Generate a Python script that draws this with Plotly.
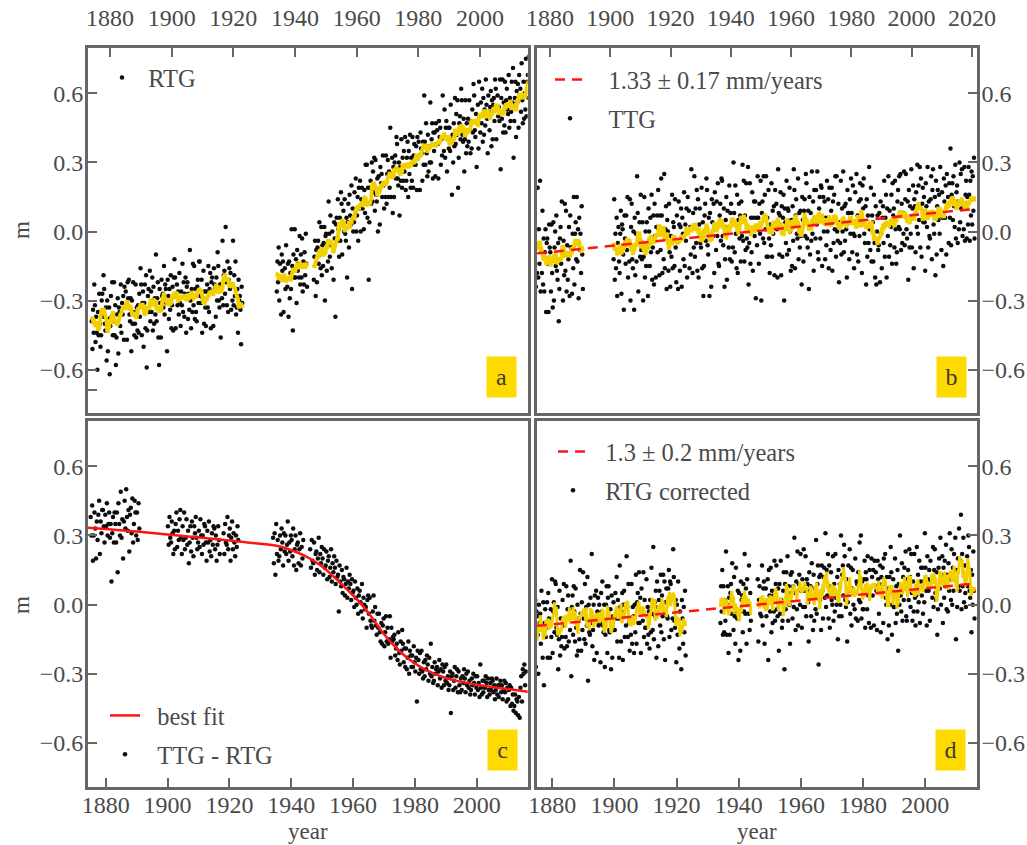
import numpy as np
import pandas as pd
import plotly.graph_objects as go

SERIF = "Liberation Serif, Times New Roman, serif"
INK = "#4a4a4a"
FRAME = "#666666"
GOLD = "#F2D000"
RED = "#FF1414"
W, H = 1027, 845

# ---------------- data (sea level, cm; five readings per year) ----------------
# RTG record
rtg_years = [*range(1874, 1923), *range(1934, 1944), *range(1946, 2016)]
rtg_cm = [
    [-39, -51, -34, -44, -23], [-32, -48, -37, -44, -60], [-35, -45, -27, -40, -50],
    [-45, -30, -27, -37, -19], [-25, -40, -43, -33, -56], [-30, -52, -38, -33, -62],
    [-41, -28, -37, -22, -45], [-39, -22, -45, -32, -58], [-46, -36, -29, -53, -33],
    [-35, -41, -23, -44, -31], [-36, -28, -47, -24, -33], [-26, -32, -47, -22, -29],
    [-21, -36, -39, -29, -52], [-30, -40, -22, -35, -45], [-40, -23, -46, -33, -43],
    [-32, -44, -27, -37, -16], [-23, -45, -31, -26, -50], [-31, -23, -42, -19, -59],
    [-43, -28, -25, -35, -17], [-39, -26, -35, -20, -43], [-24, -40, -29, -36, -10],
    [-39, -29, -22, -46, -58], [-25, -31, -46, -21, -28], [-27, -33, -15, -36, -23],
    [-25, -31, -52, -21, -28], [-38, -25, -34, -19, -42], [-32, -24, -43, -20, -12],
    [-20, -42, -28, -23, -32], [-26, -36, -18, -31, -41], [-26, -32, -14, -35, -22],
    [-37, -27, -20, -44, -24], [-22, -38, -27, -34, -8], [-30, -42, -25, -35, -14],
    [-32, -15, -38, -25, -35], [-39, -24, -21, -31, -13], [-13, -28, -31, -21, -44],
    [-29, -17, -40, -26, -33], [-41, -26, -23, -33, -15], [-35, -25, -18, -42, -22],
    [-20, -26, -41, -16, -23], [-25, -37, -20, -30, -9], [-15, -30, -33, -23, -46],
    [-23, -29, -4, -32, -19], [-17, -27, 2, -22, -32], [-13, -35, -21, -16, -25],
    [-18, -34, -23, -30, -4], [-32, -19, -28, -13, -36], [-33, -25, -44, -21, -30],
    [-28, -34, -49, -24, -31],
    # 1934-1943
    [-26, -13, -22, -7, -30], [-14, -20, -36, -10, -17], [-13, -35, -21, -16, -25],
    [-6, -21, -24, -14, -37], [-13, -29, -18, -25, 1], [-15, -43, -10, -20, 1],
    [-20, -12, -31, -8, -17], [-14, -20, -2, -23, -10], [-20, -3, -26, -13, -23],
    [-9, -19, -1, -14, -24],
    # 1946-2015
    [-21, -11, -4, -28, -8], [-22, -7, -4, -14, 4], [-10, -16, 2, -19, -6],
    [-15, -5, 2, -30, -2], [-1, -17, -6, -13, 13], [-1, -11, 7, -6, -16],
    [0, -6, -21, 4, -3], [-37, 3, 6, -4, 14], [1, -11, 6, -4, 17],
    [12, -10, 4, 9, 0], [14, -1, -4, 6, -20], [4, 12, -7, 16, 7],
    [3, 20, -25, 10, 0], [4, 17, 8, 23, 0], [7, 15, -4, 19, 10],
    [22, 0, 14, 19, 10], [13, 1, 18, 8, 29], [12, 29, 6, 19, -21],
    [4, 19, 22, 12, 30], [13, 26, 17, 32, 9], [31, 16, 13, 23, 0],
    [24, 18, 3, 28, 21], [25, 15, 33, 20, 10], [21, 15, 33, 12, 25],
    [31, 15, 26, 19, 45], [15, 25, 32, 8, 28], [15, 30, 33, 23, 41],
    [38, 23, 20, 30, 7], [28, 22, 40, 19, 32], [22, 35, 26, 41, 18],
    [22, 32, 39, 15, 35], [25, 42, 19, 32, 22], [41, 19, 33, 38, 29],
    [29, 37, 18, 41, 32], [39, 33, 18, 43, 36], [34, 22, 39, 29, 59],
    [39, 29, 47, 34, 24], [42, 26, 37, 30, 56], [30, 40, 47, 23, 43],
    [35, 43, 24, 47, 38], [44, 38, 23, 48, 41], [45, 29, 40, 33, 59],
    [41, 35, 53, 32, 45], [48, 26, 40, 45, 36], [45, 35, 55, 40, 16],
    [42, 30, 47, 37, 58], [38, 51, 42, 57, 19], [32, 47, 50, 40, 62],
    [57, 42, 39, 49, 26], [40, 57, 34, 47, 37], [49, 39, 57, 44, 34],
    [48, 36, 53, 43, 64], [59, 44, 41, 51, 28], [47, 55, 36, 65, 50],
    [43, 56, 47, 62, 39], [58, 42, 53, 46, 66], [55, 49, 34, 59, 52],
    [44, 54, 61, 37, 57], [40, 55, 58, 48, 66], [62, 40, 54, 59, 50],
    [54, 48, 66, 27, 58], [49, 66, 43, 56, 46], [65, 43, 57, 62, 53],
    [51, 68, 45, 58, 48], [52, 65, 56, 71, 32], [48, 58, 65, 41, 61],
    [56, 64, 45, 68, 59], [62, 52, 73, 57, 47], [65, 49, 60, 53, 75],
    [50, 65, 68, 58, 76],
]

# TTG record
ttg_years = [*range(1875, 1891), *range(1901, 2021)]
ttg_cm = [
    [1, -24, -6, -18, 19], [-20, 1, -14, 22, -26], [-9, -18, 9, -23, -3],
    [-26, -9, 1, -35, -5], [-3, -14, -35, 3, -7], [-9, -26, 3, -18, -33],
    [4, -30, -7, 0, -15], [7, -17, -21, -5, -39], [-25, -3, 2, -14, 13],
    [-10, -30, -4, -19, 12], [-17, 9, -26, -6, -21], [-12, 2, -28, 7, -7],
    [-7, -27, -1, -16, 15], [-23, -1, 4, -12, 15], [-13, 1, -29, 6, -8],
    [-1, -18, 11, -10, -25],
    # 1901-2020
    [-12, 14, -21, -1, -16], [6, -28, -5, 2, -13], [-18, -1, 9, -27, 3],
    [1, -10, -34, 7, -3], [-14, 7, -8, 15, -20], [-4, -13, 14, -30, 2],
    [12, -12, -16, 0, -34], [6, -19, -1, -13, 24], [8, -26, -3, 4, -11],
    [16, -8, -12, 4, -30], [-11, 15, -20, 0, -15], [4, -7, -28, 10, 0],
    [-15, 6, -9, 16, -21], [-7, 7, -23, 12, -2], [-20, 2, 7, -9, 18],
    [1, -19, 7, -8, 23], [7, -18, 0, -12, 25], [-16, 1, 11, -25, 5],
    [0, -17, 12, -9, -24], [-2, -11, 16, -16, 4], [2, -15, 14, -7, -22],
    [7, -4, -25, 13, 3], [-17, 2, 10, -24, 6], [-1, -12, 17, -15, 3],
    [-4, 10, -20, 15, 1], [9, -16, 2, -10, 27], [2, -18, 8, -7, 24],
    [-11, 10, -5, 18, -17], [14, -20, 3, 10, -5], [-7, 19, -16, 4, -28],
    [-15, 7, 12, -4, 23], [18, -6, -10, 6, -28], [8, -3, -24, 14, 4],
    [-2, 12, -18, 17, 3], [-8, 13, -2, 21, -14], [-15, 7, 12, -4, 23],
    [22, -2, -6, 10, -24], [-12, 5, 15, -21, 9], [2, -7, 20, -12, 8],
    [12, -13, 5, -7, 30], [8, -9, 20, -1, -16], [16, -18, 5, 12, -3],
    [7, -13, 13, -2, 29], [-4, 22, -13, 7, -8], [21, -3, -7, 28, -23],
    [-5, 21, -14, 6, -9], [17, -17, 6, 13, -2], [13, -29, 6, -6, 24],
    [6, -14, 12, -1, 22], [-30, 8, 13, -3, 24], [-5, 16, 1, 24, -11],
    [6, -11, 18, -3, -18], [3, -6, 21, -11, 9], [-1, 11, -19, 18, 2],
    [12, 1, -20, 27, 8], [-10, 7, 17, -19, 11], [-11, 6, 16, -30, 10],
    [4, -5, 22, -10, 10], [9, -8, 19, 0, -17], [5, -15, 11, -4, 27],
    [18, -16, 7, 14, -1], [-3, 23, -12, 8, -7], [9, -2, -23, 15, 5],
    [-13, 9, 14, -2, 25], [21, -3, -7, 9, -25], [15, -10, 8, -4, 26],
    [-1, 13, -17, 18, 4], [-3, 18, 3, 26, -9], [-12, 10, 15, -3, 20],
    [19, -15, 6, 15, 0], [13, -12, 6, -6, 22], [0, 14, -16, 19, 5],
    [-8, 9, 19, -17, 13], [-5, 16, 1, 24, -11], [24, 0, -4, 12, -22],
    [4, -5, 22, -10, 10], [0, 26, -9, 11, -4], [12, 1, -20, 18, 8],
    [8, -12, 14, -1, 23], [8, -9, 20, -1, -16], [-2, 17, 4, 25, -10],
    [7, -13, 13, -2, 21], [14, 3, -18, 20, 10], [23, -1, -5, 11, -23],
    [14, -11, 7, -5, 28], [1, -8, 19, -13, 7], [4, -13, 16, -5, -20],
    [11, -23, 0, 7, -8], [-6, 8, -22, 13, -1], [-16, 6, 11, -5, 22],
    [-11, 6, 16, -20, 10], [-2, 24, -11, 9, -6], [2, 16, -14, 21, 7],
    [10, -7, 22, 1, -14], [-9, 13, 18, 2, 24], [1, 25, -8, 12, -5],
    [8, -1, 26, -6, 14], [25, 1, -3, 13, -21], [18, -7, 11, -1, 27],
    [-7, 10, 20, -16, 14], [11, -9, 17, 2, 29], [-1, 20, 5, 28, -7],
    [23, -11, 12, 19, 4], [15, 4, -17, 21, 11], [2, 28, -7, 13, -2],
    [-3, 14, 24, -12, 18], [27, 3, -1, 15, -19], [22, -10, 11, 18, 5],
    [16, -1, 28, 7, -8], [17, 6, -15, 23, 13], [6, 20, -10, 25, 11],
    [15, -5, 21, 6, 36], [-6, 16, 21, 5, 24], [11, 2, 29, -3, 17],
    [20, -5, 13, 1, 30], [4, 25, 10, 27, -2], [10, 1, 28, -4, 16],
    [22, -3, 15, 3, 28], [16, -4, 22, 7, 26], [3, 24, 9, 32, -3],
]

# TTG - RTG difference (four readings per year)
diff_years = [*range(1875, 1891), *range(1900, 1917), *range(1918, 1923),
              *range(1934, 1944), *range(1946, 2016)]
diff_cm = [
    [38, 30, 43, 19], [30, 40, 33, 20], [36, 28, 39, 45], [22, 36, 31, 41],
    [41, 34, 27, 39], [34, 44, 30, 35], [40, 29, 35, 10], [31, 38, 27, 40],
    [35, 27, 40, 14], [44, 35, 30, 49], [29, 37, 20, 36], [45, 33, 50, 38],
    [32, 41, 23, 39], [42, 31, 46, 27], [35, 45, 40, 30], [40, 28, 44, 33],
    # 1900-1916
    [34, 26, 38, 29], [27, 36, 31, 22], [32, 24, 35, 40], [25, 32, 28, 37],
    [41, 29, 22, 34], [28, 40, 24, 29], [37, 26, 32, 18], [27, 34, 23, 36],
    [29, 21, 34, 31], [38, 29, 24, 27], [32, 25, 37, 30], [22, 30, 26, 35],
    [34, 27, 19, 32], [27, 36, 23, 28], [21, 31, 26, 34], [33, 24, 30, 19],
    [26, 34, 28, 22],
    # 1918-1922
    [31, 22, 35, 27], [26, 38, 24, 30], [33, 19, 29, 36], [24, 31, 27, 21],
    [30, 25, 34, 28],
    # 1934-1943
    [29, 18, 31, 13], [35, 22, 28, 19], [21, 30, 24, 33], [27, 17, 31, 23],
    [30, 22, 26, 36], [19, 27, 23, 30], [28, 21, 33, 17], [24, 30, 15, 26],
    [27, 18, 24, 31], [17, 25, 20, 28],
    # 1946-2015
    [24, 16, 28, 19], [18, 27, 13, 22], [23, 15, 20, 29], [14, 22, 18, 25],
    [20, 13, 24, 16], [17, 23, 11, 19], [21, 12, 16, 24], [10, 18, 14, 21],
    [16, 9, 19, 12], [13, -3, 17, 10], [8, 15, 5, 12], [11, 4, 9, 16],
    [3, 10, 7, 13], [9, 2, 11, 5],
    [6, -1, 10, 3], [0, 7, -4, 4], [6, 1, -3, 9], [-6, 3, 0, -2],
    [-1, -10, 2, 4], [-4, 3, -7, -9], [-10, -3, 4, -7], [-1, -9, -13, -4],
    [-10, -4, -12, -16], [-8, -17, -9, -6], [-18, -12, -5, -16], [-10, -17, -15, -5],
    [-23, -10, -16, -14], [-15, -13, -22, -19], [-17, -24, -12, -21], [-26, -16, -20, -11],
    [-17, -25, -19, -27], [-19, -28, -23, -16], [-30, -20, -22, -27], [-22, -27, -18, -25],
    [-29, -23, -42, -20], [-24, -30, -21, -28], [-20, -29, -32, -25], [-31, -24, -28, -22],
    [-26, -33, -23, -30], [-17, -31, -27, -34], [-33, -25, -30, -28], [-27, -35, -29, -24],
    [-32, -28, -36, -26], [-29, -35, -27, -33], [-26, -34, -31, -37], [-35, -29, -47, -31],
    [-30, -37, -33, -27], [-36, -31, -28, -38], [-29, -35, -38, -32], [-37, -31, -34, -28],
    [-32, -38, -30, -35], [-29, -36, -33, -39], [-37, -32, -35, -30], [-34, -39, -31, -36],
    [-31, -37, -34, -40], [-26, -36, -39, -33], [-38, -33, -36, -31], [-34, -40, -32, -37],
    [-39, -34, -37, -32], [-33, -38, -35, -41], [-37, -32, -39, -35], [-40, -35, -33, -38],
    [-35, -41, -37, -33], [-38, -34, -42, -36], [-41, -37, -35, -44], [-36, -43, -39, -46],
    [-44, -39, -47, -41], [-42, -48, -40, -49], [-36, -31, -42, -28], [-30, -26, -35, -29],
]

# best fit of the difference (m)
fit_year = [1874, 1880, 1890, 1900, 1910, 1920, 1930, 1936, 1942, 1946, 1950, 1954, 1958,
            1962, 1966, 1970, 1974, 1978, 1982, 1986, 1990, 1995, 2000, 2005, 2010, 2017]
fit_m = [0.334, 0.328, 0.317, 0.304, 0.291, 0.278, 0.264, 0.253, 0.226, 0.200, 0.165, 0.118,
         0.066, 0.012, -0.055, -0.128, -0.188, -0.236, -0.272, -0.298, -0.318, -0.335,
         -0.347, -0.357, -0.366, -0.379]

# RTG after correction
cor_years = [*range(1874, 1923), *range(1934, 1944), *range(1946, 2016)]
cor_cm = [
    [-19, -6, 2, -27, -3], [-5, -13, -30, 0, -8], [-4, -17, 6, -11, -23],
    [1, -35, -8, -2, -14], [-10, 1, -23, 5, -6], [-7, -23, -2, -14, 11],
    [-21, -3, 1, -12, 10], [9, -10, -13, -1, -28], [-15, 6, -22, -6, -18],
    [-14, 2, -9, 9, -19], [-7, -14, 8, -18, -2], [4, -16, -2, -11, 19],
    [-31, -1, 4, -13, 8], [-3, -16, 7, -10, -22], [0, -20, -6, -15, 15],
    [-4, -20, 1, -11, 14], [-6, -15, 9, -17, -1], [-9, 12, -33, 0, -12],
    [-13, 3, -8, 22, -18], [-11, 0, -24, 4, -7], [6, -21, -3, 3, -9],
    [0, -8, -25, 5, -3], [10, -9, -12, 0, -27], [-13, 0, 8, -21, 3],
    [8, -11, -12, -2, -28], [4, -23, -5, 1, -11], [-11, 5, -6, 12, -16],
    [2, -6, -23, 17, -1], [-16, -3, 5, -24, 0], [6, -14, 0, -9, 21],
    [-1, -14, 9, -8, -20], [-6, -13, 9, -17, -1], [-5, -21, 0, -12, 13],
    [-17, 1, 5, -8, 14], [-8, 3, -21, 7, -4], [-7, 14, -14, 2, -10],
    [-10, 11, -17, -1, -13], [-3, -19, 2, -12, 16], [-4, -11, 25, -15, 1],
    [-5, 6, -23, 10, -1], [-18, 2, 6, -9, 13], [-12, 4, -5, 13, -15],
    [10, -24, 1, 7, -5], [-6, 7, 15, -14, 10], [9, -11, 3, -6, 24],
    [12, -7, -10, 2, -25], [0, -13, 10, -7, -19], [-3, -11, -28, 2, -6],
    [-17, -1, -12, 6, -22],
    # 1934-1943
    [-8, 8, -3, 15, -13], [8, -12, 2, -7, 23], [-13, 0, 8, -21, 3],
    [-13, 5, 9, -4, 18], [2, -11, 12, -5, -17], [16, -3, -6, 6, -24],
    [5, -3, -20, 10, 2], [4, -12, 9, -3, 22], [-4, 7, -17, 11, 0],
    [-4, 17, -11, 5, -7],
    # 1946-2015
    [11, -16, 2, 8, -4], [2, -5, 17, -9, 7], [10, -17, 1, 7, -5],
    [0, 11, -24, 15, 4], [-3, 16, -12, 6, -8], [4, -3, 19, -7, 9],
    [17, -2, -5, 7, -20], [9, -4, 19, 2, -10], [-7, 6, 14, -28, 9],
    [-2, 14, 3, 21, -7], [8, 0, -17, 13, 5], [14, -6, 8, -1, 29],
    [5, -11, 10, -2, 23], [-9, 9, 13, 0, 22], [6, -10, 11, -1, 24],
    [6, -1, 21, -5, 11], [9, 1, -16, 14, 6], [8, -5, 18, 3, -11],
    [13, -7, 7, -2, 28], [-4, 9, 17, -26, 12], [2, 13, -11, 17, 6],
    [-6, 12, 16, 3, 31], [-1, 15, 4, 22, -6], [17, -10, 8, 14, 2],
    [0, 21, -7, 9, -3], [22, 3, 0, 12, -15], [15, -5, 9, 0, 30],
    [-5, 13, 17, 4, 26], [21, 2, -1, 11, -16], [1, 17, 6, 24, -4],
    [16, -9, 7, 15, 0], [5, -2, 20, -6, 10], [9, -7, 14, 2, 27],
    [1, 30, -6, 10, -2], [-2, 11, 19, -10, 14], [11, -2, 21, 4, -8],
    [15, 7, -10, 20, 12], [4, 15, -9, 19, 8], [14, 6, -11, 19, 11],
    [-4, 9, 17, -12, 12], [5, 16, -8, 20, 9], [22, 3, 0, 12, -15],
    [7, -9, 12, 0, 25], [14, -13, 5, 11, -1], [-1, 20, -8, 8, -4],
    [15, -20, 9, 0, 30], [4, -3, 18, -7, 12], [2, 16, 7, 23, -5],
    [-7, 11, 15, 2, 24], [12, -1, 22, 5, -7], [10, -3, 22, 3, -9],
    [4, 25, -3, 13, 1], [19, -8, 10, 16, 4], [16, -4, 10, 1, 31],
    [16, 6, -9, 21, 11], [6, 15, -7, 19, 10], [10, 3, 25, -1, 15],
    [24, 5, 2, 14, -13], [-2, 16, 20, 7, 29], [0, 13, 21, -8, 16],
    [3, 19, 8, 26, -2], [13, -3, 18, 6, 31], [11, 2, 24, 0, 16],
    [6, 22, 11, 29, -15], [15, -1, 20, 8, 33], [6, 19, 39, -2, 22],
    [8, 29, 1, 17, 5], [-1, 17, 21, 8, 30], [25, 6, 3, 15, -12],
    [13, 0, 23, 6, -6],
]

# linear trends (m)
ttg_trend_year = [1875.7, 2021.6]
ttg_trend_m = [-0.095, 0.099]
cor_trend_year = [1875.0, 2016.6]
cor_trend_m = [-0.092, 0.092]

year_ticks = [1880, 1900, 1920, 1940, 1960, 1980, 2000]
year_ticks_b = year_ticks + [2020]
m_ticks = [-0.6, -0.3, 0.0, 0.3, 0.6]


# ---------------- helpers ----------------
def readings(years, rows):
    xs, ys = [], []
    for yr, row in zip(years, rows, strict=True):
        n = len(row)
        for i, v in enumerate(row):
            xs.append(yr + (i + 0.5) / n)
            ys.append(v / 100.0)
    return np.array(xs), np.array(ys)


def running_mean(xs, ys, window):
    run = np.concatenate([[0], np.cumsum(np.diff(xs) > 1.0)])
    lx, ly = [], []
    for k in np.unique(run):
        m = run == k
        sm = pd.Series(ys[m]).rolling(window, center=True, min_periods=1).mean()
        lx += list(xs[m]) + [None]
        ly += list(sm) + [None]
    return lx, ly


def minus(v):
    return f"{v:.1f}".replace("-", "\u2212")


NB = "\u00a0"
fig = go.Figure()


def dots(x, y, name, xa, ya, legend, rank=2):
    fig.add_trace(go.Scatter(
        x=x, y=y, mode="markers", name=name, xaxis=xa, yaxis=ya, legend=legend,
        legendgroup=name, legendrank=rank,
        marker=dict(size=4.5, color="#0d0d0d", line=dict(width=0))))


def smooth(x, y, xa, ya, window, width):
    lx, ly = running_mean(x, y, window)
    fig.add_trace(go.Scatter(x=lx, y=ly, mode="lines", xaxis=xa, yaxis=ya, showlegend=False,
                             line=dict(color=GOLD, width=width)))


# panel a
ax, ay = readings(rtg_years, rtg_cm)
dots(ax, ay, NB + "RTG", "x", "y", "legend")
smooth(ax, ay, "x", "y", 9, 4)

# panel b
bx, by = readings(ttg_years, ttg_cm)
dots(bx, by, NB * 3 + "TTG", "x2", "y2", "legend2")
smooth(bx, by, "x2", "y2", 9, 4)
fig.add_trace(go.Scatter(x=ttg_trend_year, y=ttg_trend_m, mode="lines",
                         name=NB * 3 + "1.33 \u00b1 0.17 mm/years", legendgroup="tb",
                         legendrank=1, xaxis="x2", yaxis="y2", legend="legend2",
                         line=dict(color=RED, width=2.5, dash="10px,7px")))

# panel c
cx, cy = readings(diff_years, diff_cm)
dots(cx, cy, NB * 2 + "TTG - RTG", "x3", "y3", "legend3")
fig.add_trace(go.Scatter(x=fit_year, y=fit_m, mode="lines", line_shape="spline",
                         name=NB * 2 + "best fit", legendgroup="fit", legendrank=1,
                         xaxis="x3", yaxis="y3", legend="legend3",
                         line=dict(color=RED, width=2.5)))

# panel d
dx, dy = readings(cor_years, cor_cm)
dots(dx, dy, NB * 2 + "RTG corrected", "x4", "y4", "legend4")
smooth(dx, dy, "x4", "y4", 5, 3)
fig.add_trace(go.Scatter(x=cor_trend_year, y=cor_trend_m, mode="lines",
                         name=NB * 2 + "1.3 \u00b1 0.2 mm/years", legendgroup="td",
                         legendrank=1, xaxis="x4", yaxis="y4", legend="legend4",
                         line=dict(color=RED, width=2.5, dash="10px,7px")))

# ---------------- layout ----------------
LEFT = [88 / W, 527.7 / W]
RIGHT = [537 / W, 976.7 / W]
TOP = [1 - 413 / H, 1 - 47.7 / H]
BOTTOM = [1 - 787.3 / H, 1 - 421.3 / H]

common = dict(showline=True, linecolor=FRAME, linewidth=3, mirror=True,
              ticks="inside", ticklen=9, tickwidth=2, tickcolor=FRAME,
              showgrid=False, zeroline=False, automargin=False,
              tickfont=dict(family=SERIF, size=24, color=INK))


def xaxis(domain, anchor, side, rng, ticks, standoff):
    return dict(common, domain=domain, anchor=anchor, side=side, range=rng,
                tickmode="array", tickvals=ticks, ticktext=[str(t) for t in ticks],
                ticklabelstandoff=standoff)


def yaxis(domain, anchor, side, rng, extra=()):
    vals = m_ticks + list(extra)
    text = [minus(v) for v in m_ticks] + ["" for _ in extra]
    return dict(common, domain=domain, anchor=anchor, side=side, range=rng,
                tickmode="array", tickvals=vals, ticktext=text, ticklabelstandoff=-3)


def legend_box(left_px, top_px):
    return dict(x=left_px / W, y=1 - top_px / H, xanchor="left", yanchor="top",
                bgcolor="rgba(0,0,0,0)", borderwidth=0, itemwidth=30,
                tracegroupgap=4, font=dict(family=SERIF, size=24.5, color=INK))


def tag(letter, right_px, bottom_px):
    return dict(text=letter, xref="paper", yref="paper", x=right_px / W,
                y=1 - bottom_px / H, xanchor="right", yanchor="bottom",
                width=29, height=40, bgcolor="#FFDA00", borderpad=0, showarrow=False,
                font=dict(family=SERIF, size=24, color="#3a3a3a"))


def label(text, x_px, y_px, angle=0):
    return dict(text=text, xref="paper", yref="paper", x=x_px / W, y=1 - y_px / H,
                xanchor="center", yanchor="middle", showarrow=False, textangle=angle,
                font=dict(family=SERIF, size=23, color=INK))


fig.update_layout(
    width=W, height=H, margin=dict(l=0, r=0, t=0, b=0),
    paper_bgcolor="white", plot_bgcolor="white", template="none",
    xaxis=xaxis(LEFT, "y", "top", [1872.86, 2015.47], year_ticks, 9),
    yaxis=yaxis(TOP, "x", "left", [-0.788, 0.798], extra=[-0.69]),
    xaxis2=xaxis(RIGHT, "y2", "top", [1875.68, 2021.6], year_ticks_b, 9),
    yaxis2=yaxis(TOP, "x2", "right", [-0.788, 0.798]),
    xaxis3=xaxis(LEFT, "y3", "bottom", [1874.28, 2016.46], year_ticks, -6),
    yaxis3=yaxis(BOTTOM, "x3", "left", [-0.792, 0.795]),
    xaxis4=xaxis(RIGHT, "y4", "bottom", [1875.07, 2016.58], year_ticks, -6),
    yaxis4=yaxis(BOTTOM, "x4", "right", [-0.792, 0.795]),
    legend=legend_box(102, 55),
    legend2=legend_box(550, 57),
    legend3=legend_box(105, 693),
    legend4=legend_box(553, 429),
    annotations=[
        tag("a", 517, 398), tag("b", 967, 398), tag("c", 518, 771), tag("d", 966, 771),
        label("m", 21, 230, -90), label("m", 21, 605, -90),
        label("year", 308, 831), label("year", 757, 831),
    ],
)

fig.write_html("out.html")
